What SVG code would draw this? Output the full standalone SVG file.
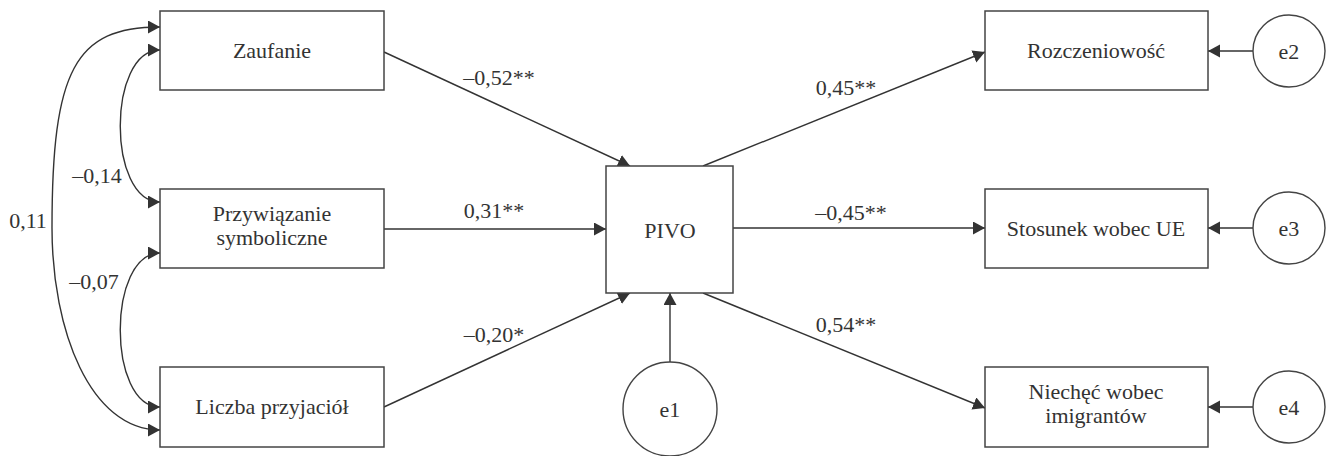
<svg xmlns="http://www.w3.org/2000/svg" width="1329" height="456" viewBox="0 0 1329 456" font-family="Liberation Serif, Times New Roman, serif">
<style>
.box{fill:#fff;stroke:#444;stroke-width:1.5}
.circ{fill:#fff;stroke:#444;stroke-width:1.4}
.lbl{font-family:'Liberation Serif','Times New Roman',serif;font-size:22px;fill:#333;text-anchor:middle}
.con{fill:none;stroke:#333;stroke-width:1.4}
.arr{marker-end:url(#ah)}
.bi{marker-start:url(#ah);marker-end:url(#ah)}
</style>
<defs>
<marker id="ah" markerUnits="userSpaceOnUse" markerWidth="13" markerHeight="14" refX="12" refY="6.5" orient="auto-start-reverse">
<path d="M0,0 L12,6.5 L0,13 z" fill="#333"/>
</marker>
</defs>
<rect width="1329" height="456" fill="#fff"/>
<g id="connectors">
<path class="con bi" d="M160,27 C75,27 52,70 52,228 C52,330 90,430 160,430"/>
<path class="con bi" d="M160,50 C107,50 107,202 160,202"/>
<path class="con bi" d="M160,253 C107,253 107,407 160,407"/>
<path class="con arr" d="M384,52 L630,166"/>
<path class="con arr" d="M384,229 L606,229"/>
<path class="con arr" d="M384,407 L630,293"/>
<path class="con arr" d="M670,362 L670,293"/>
<path class="con arr" d="M703,166 L985,52"/>
<path class="con arr" d="M733,228 L985,228"/>
<path class="con arr" d="M703,293 L985,408"/>
<path class="con arr" d="M1253,51 L1208,51"/>
<path class="con arr" d="M1253,228 L1208,228"/>
<path class="con arr" d="M1253,407 L1208,407"/>
<text class="lbl" x="28" y="228">0,11</text>
<text class="lbl" x="97" y="183">–0,14</text>
<text class="lbl" x="94" y="289">–0,07</text>
<text class="lbl" x="499" y="85">–0,52**</text>
<text class="lbl" x="494" y="218">0,31**</text>
<text class="lbl" x="494" y="342">–0,20*</text>
<text class="lbl" x="846" y="95">0,45**</text>
<text class="lbl" x="851" y="220">–0,45**</text>
<text class="lbl" x="846" y="332">0,54**</text>
</g>
<g id="zaufanie"><rect class="box" x="160" y="11" width="224" height="79"/><text class="lbl" x="272" y="58">Zaufanie</text></g>
<g id="przywiazanie"><rect class="box" x="160" y="189" width="224" height="79"/><text class="lbl" x="272" y="221">Przywiązanie</text><text class="lbl" x="272" y="245">symboliczne</text></g>
<g id="liczba"><rect class="box" x="160" y="367" width="224" height="80"/><text class="lbl" x="272" y="414">Liczba przyjaciół</text></g>
<g id="pivo"><rect class="box" x="606" y="166" width="127" height="127"/><text class="lbl" x="670" y="238">PIVO</text></g>
<g id="e1"><circle class="circ" cx="670" cy="409" r="47"/><text class="lbl" x="670" y="417">e1</text></g>
<g id="rozczeniowosc"><rect class="box" x="985" y="11" width="223" height="79"/><text class="lbl" x="1096" y="58">Rozczeniowość</text></g>
<g id="stosunek"><rect class="box" x="985" y="189" width="223" height="79"/><text class="lbl" x="1096" y="236">Stosunek wobec UE</text></g>
<g id="niechec"><rect class="box" x="985" y="367" width="223" height="80"/><text class="lbl" x="1096" y="399">Niechęć wobec</text><text class="lbl" x="1096" y="423">imigrantów</text></g>
<g id="e2"><circle class="circ" cx="1289" cy="51" r="36"/><text class="lbl" x="1289" y="59">e2</text></g>
<g id="e3"><circle class="circ" cx="1289" cy="228" r="36"/><text class="lbl" x="1289" y="236">e3</text></g>
<g id="e4"><circle class="circ" cx="1289" cy="407" r="36"/><text class="lbl" x="1289" y="415">e4</text></g>
</svg>
